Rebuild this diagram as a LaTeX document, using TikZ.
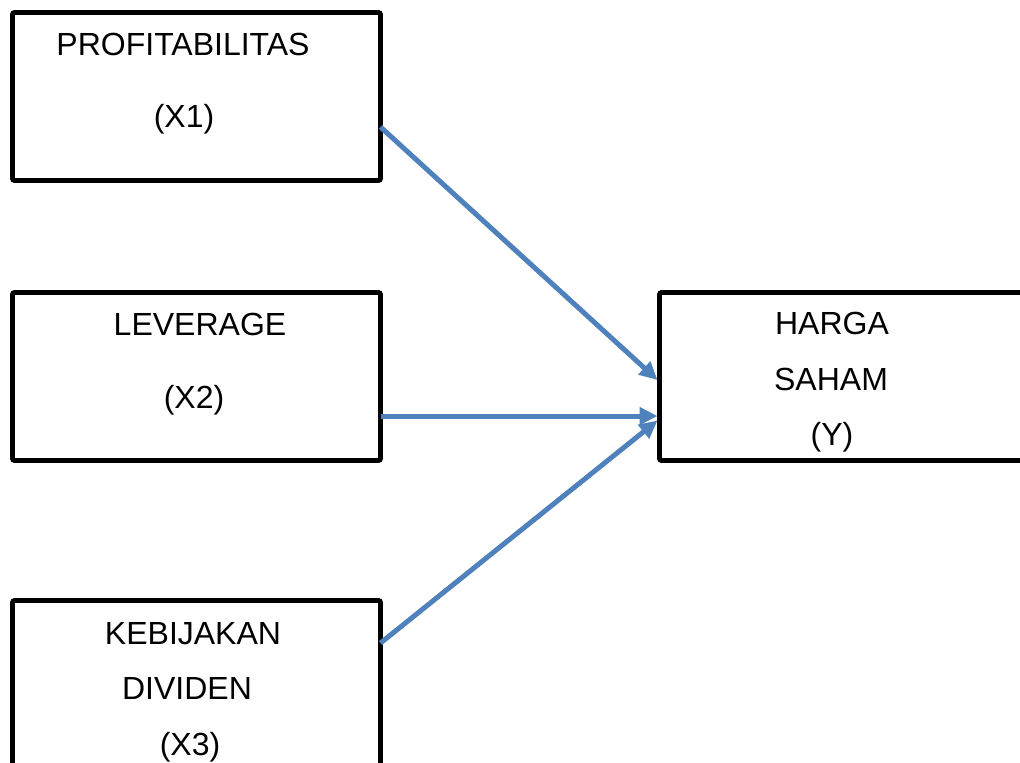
\documentclass[tikz,border=0pt]{standalone}
\usepackage{fontspec}
\setmainfont{Liberation Sans}
\usepackage{tikz}
\usetikzlibrary{calc}
\usetikzlibrary{arrows.meta, positioning}
\definecolor{linkblue}{HTML}{4F81BD}

\begin{document}
\begin{tikzpicture}[
			x=0.5pt,
			y=-0.5pt,
			varbox/.style={
					draw,
					line width=2.4pt,
					rounded corners=1pt,
					minimum width=184pt,
					minimum height=84pt,
					outer sep=0pt,
					inner sep=0pt,
					anchor=north west
				},
			lbl/.style={
					anchor=base,
					inner sep=0pt,
					font=\fontsize{16}{19}\selectfont
				},
			link/.style={
					draw=linkblue,
					line width=2.5pt,
					-{Triangle[length=9pt, width=8.5pt]}
				}
		]
		\clip (0, 0) rectangle (1020, 762); % page of the reference

		\node[varbox] (b1) at (12.5, 12.5) {};
		\node[varbox] (b2) at (12.5, 292.5) {};
		\node[varbox] (b3) at (12.5, 600.5) {};
		\node[varbox] (by) at (659.5, 292.5) {};

		\node[lbl] (t1a) at (183, 55) {PROFITABILITAS};
		\node[lbl] (t1b) at (184, 127) {(X1)};

		\node[lbl] (t2a) at (200, 335) {LEVERAGE};
		\node[lbl] (t2b) at (194, 408) {(X2)};

		\node[lbl] (t3a) at (193, 644) {KEBIJAKAN};
		\node[lbl] (t3b) at (187, 699) {DIVIDEN};
		\node[lbl] (t3c) at (190, 755) {(X3)};

		\node[lbl] (tya) at (832, 334) {HARGA};
		\node[lbl] (tyb) at (831, 390) {SAHAM};
		\node[lbl] (tyc) at (832, 445) {(Y)};

		\draw[link] ($(b1.east)+(0, 30.5)$) -- ($(by.west)+(-2, 3.5)$);
		\draw[link] ($(b2.east)+(0, 39.5)$) -- ($(by.west)+(-2, 39.5)$);
		\draw[link] ($(b3.east)+(0, -41.5)$) -- ($(by.west)+(-2, 44)$);
	\end{tikzpicture}
\end{document}
